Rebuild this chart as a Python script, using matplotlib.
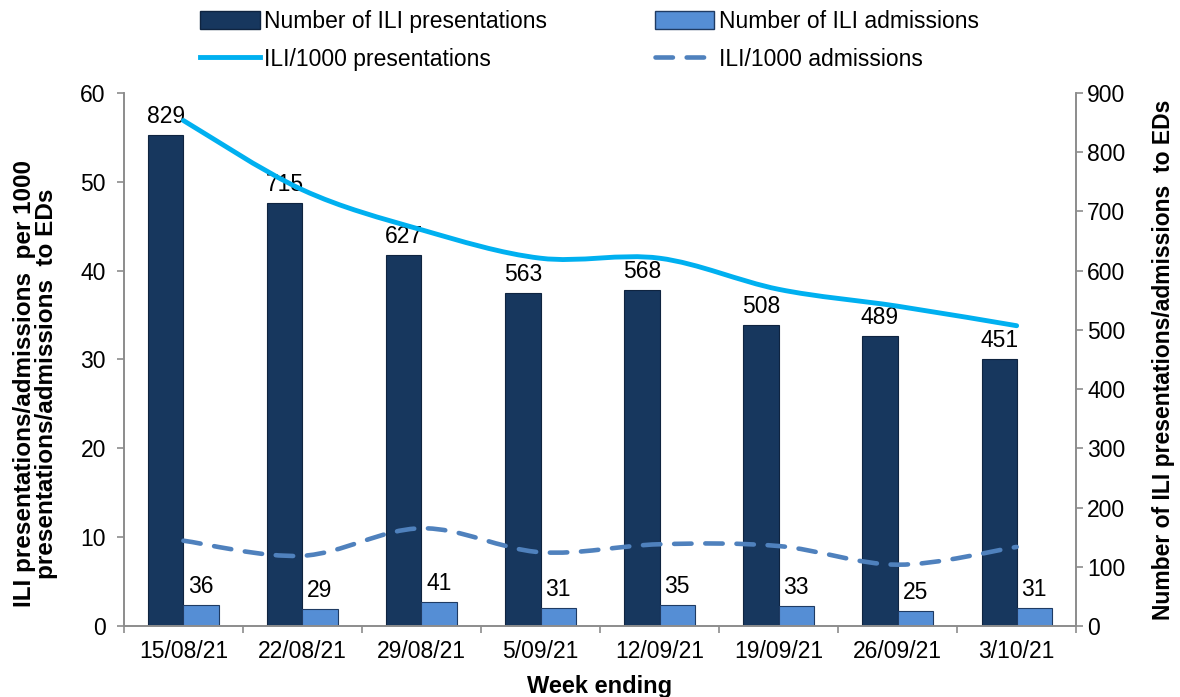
import matplotlib
matplotlib.use('Agg')
import matplotlib.pyplot as plt
import numpy as np
from matplotlib.path import Path
from matplotlib.patches import PathPatch, Patch
from matplotlib.lines import Line2D

weeks = ['15/08/21', '22/08/21', '29/08/21', '5/09/21',
         '12/09/21', '19/09/21', '26/09/21', '3/10/21']
n_presentations = [829, 715, 627, 563, 568, 508, 489, 451]
n_admissions = [36, 29, 41, 31, 35, 33, 25, 31]
rate_presentations = [56.9, 49.1, 44.6, 41.4, 41.4, 37.9, 36.0, 33.8]
rate_admissions = [9.6, 7.9, 11.0, 8.3, 9.2, 9.0, 6.9, 8.9]

DARK = '#17375E'
LIGHT = '#558ED5'
CYAN = '#00B0F0'
DASH = '#4F81BD'
GREY = '#8C8C8C'
FS = 16.5

plt.rcParams['font.family'] = ['Liberation Sans', 'DejaVu Sans']


def smooth_path(xs, ys):
    """Excel style smoothed line: bezier segments through the points"""
    pts = np.column_stack([xs, ys]).astype(float)
    ext = np.vstack([pts[0], pts, pts[-1]])
    verts = [pts[0]]
    codes = [Path.MOVETO]
    for i in range(len(pts) - 1):
        p0, p1, p2, p3 = ext[i], ext[i + 1], ext[i + 2], ext[i + 3]
        c1 = p1 + (p2 - p0) / 6.0
        c2 = p2 - (p3 - p1) / 6.0
        verts += [c1, c2, p2]
        codes += [Path.CURVE4] * 3
    return Path(verts, codes)


def main():
    fig = plt.figure(figsize=(11.8, 6.97), dpi=100)
    ax = fig.add_axes([0.105, 0.1019, 0.807, 0.7647])
    ax2 = ax.twinx()
    ax.set_zorder(ax2.get_zorder() + 1)
    ax.patch.set_visible(False)

    x = np.arange(len(weeks))
    w = 0.295
    ax2.bar(x - w / 2, n_presentations, w, color=DARK, edgecolor='#0F2440', linewidth=0.8)
    ax2.bar(x + w / 2, n_admissions, w, color=LIGHT, edgecolor='#1F3B63', linewidth=0.8)
    for xi, v in zip(x, n_presentations):
        ax2.annotate(str(v), (xi - w / 2, v), xytext=(0, 5), textcoords='offset points',
                     ha='center', va='bottom', fontsize=FS)
    for xi, v in zip(x, n_admissions):
        ax2.annotate(str(v), (xi + w / 2, v), xytext=(0, 5), textcoords='offset points',
                     ha='center', va='bottom', fontsize=FS)

    dash = (0, (3.8, 3.0))
    ax.add_patch(PathPatch(smooth_path(x, rate_presentations), fill=False,
                           edgecolor=CYAN, linewidth=3.5, capstyle='round'))
    ax.add_patch(PathPatch(smooth_path(x, rate_admissions), fill=False,
                           edgecolor=DASH, linewidth=3.3, linestyle=dash,
                           capstyle='round'))

    ax.set_xlim(-0.5, len(weeks) - 0.5)
    ax.set_ylim(0, 60)
    ax2.set_ylim(0, 900)
    ax.set_yticks(range(0, 61, 10))
    ax2.set_yticks(range(0, 901, 100))
    ax.set_xticks(x)
    ax.set_xticklabels(weeks, fontsize=FS)
    ax.set_xticks(np.arange(-0.5, len(weeks), 1), minor=True)
    ax.tick_params(axis='x', which='major', length=0, pad=10)
    ax.tick_params(axis='x', which='minor', length=5, color=GREY, width=1.2)
    ax.tick_params(axis='y', labelsize=FS, length=5, color=GREY, width=1.2, pad=8)
    ax2.tick_params(axis='y', labelsize=FS, length=5, color=GREY, width=1.2, pad=3)

    for a in (ax, ax2):
        a.spines['top'].set_visible(False)
        for s in ('left', 'right', 'bottom'):
            a.spines[s].set_color(GREY)
            a.spines[s].set_linewidth(1.2)

    ax.set_ylabel('ILI presentations/admissions  per 1000\npresentations/admissions  to EDs',
                  fontsize=17.5, fontweight='bold', labelpad=16, linespacing=0.95)
    ax.yaxis.label.set_y(0.455)
    ax2.set_ylabel('Number of ILI presentations/admissions  to EDs',
                   fontsize=16.5, fontweight='bold', labelpad=19)
    ax.set_xlabel('Week ending', fontsize=17, fontweight='bold', labelpad=9)

    handles = [
        Patch(facecolor=DARK, edgecolor='#0F2440', label='Number of ILI presentations'),
        Line2D([], [], color=CYAN, linewidth=3.5, label='ILI/1000 presentations'),
        Patch(facecolor=LIGHT, edgecolor='#1F3B63', label='Number of ILI admissions'),
        Line2D([], [], color=DASH, linewidth=3.3, linestyle=dash,
               dash_capstyle='round', label='ILI/1000 admissions'),
    ]
    fig.legend(handles=handles, ncol=2, loc='upper left',
               bbox_to_anchor=(200 / 1180, 1 - 10 / 697), borderaxespad=0, borderpad=0,
               frameon=False, fontsize=FS, handlelength=2.6, handleheight=0.85,
               handletextpad=0.2, columnspacing=4.7, labelspacing=0.65)

    plt.savefig('out.png', dpi=100)


if __name__ == '__main__':
    main()
